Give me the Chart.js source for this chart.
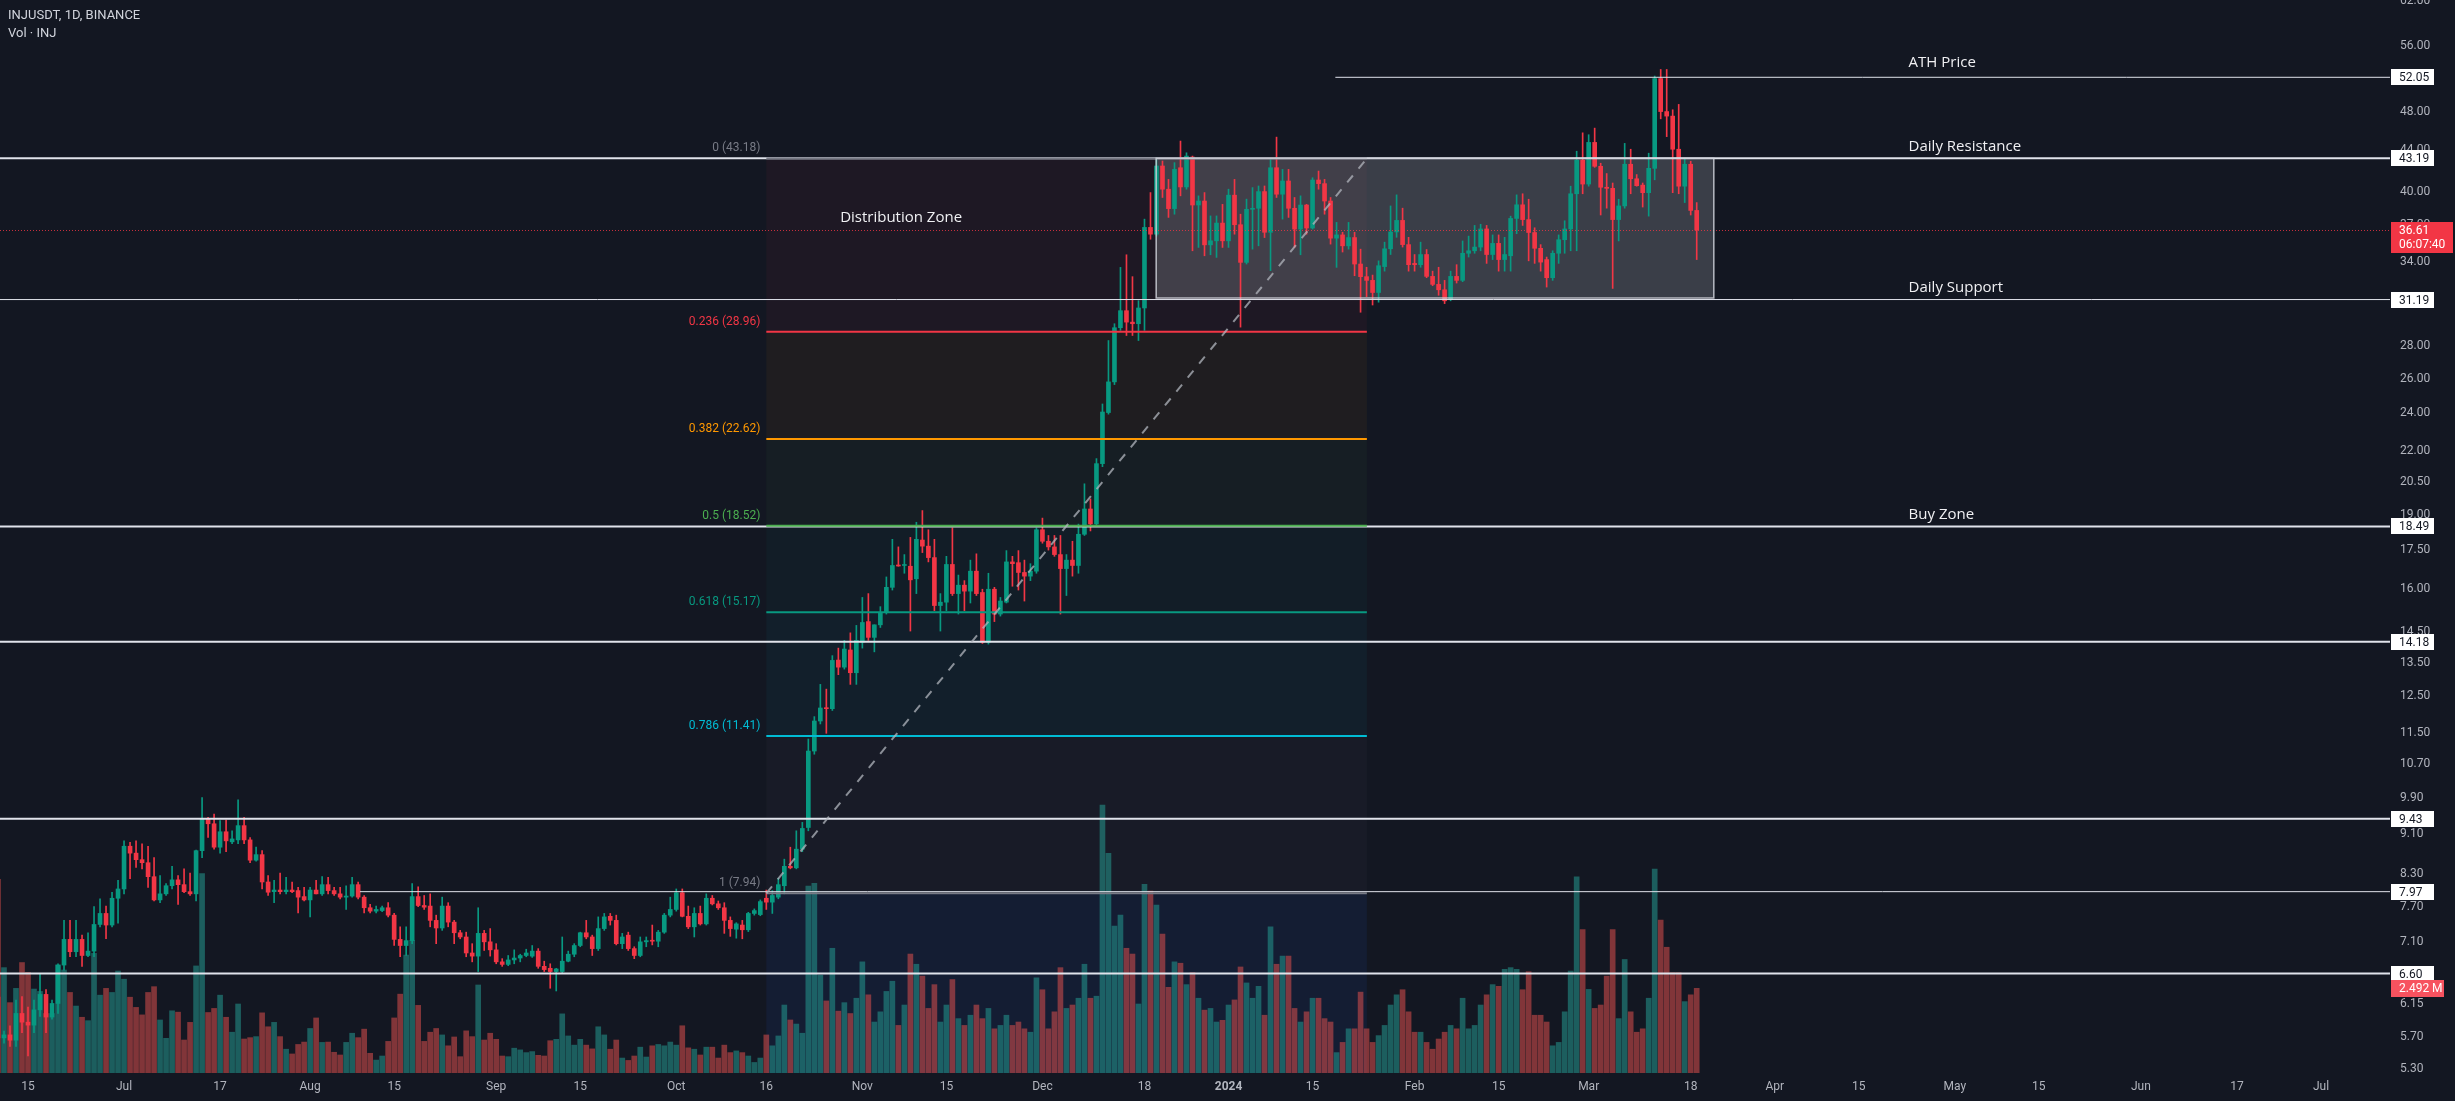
<!DOCTYPE html>
<html>
<head>
<meta charset="utf-8">
<title>INJUSDT 1D</title>
<script src="https://cdn.jsdelivr.net/npm/chart.js@4.4.1/dist/chart.umd.min.js"></script>
<style>
  html, body { margin: 0; padding: 0; background: #131722; }
  #wrap { width: 2455px; height: 1101px; position: relative; }
</style>
</head>
<body>
<div id="wrap"><canvas id="injChart"></canvas></div>
<script>
// INJUSDT daily candles, first candle = 2023-06-10
var firstDate = '2023-06-10';

var open = [
  6.25, 5.69, 5.73, 5.66, 6.02, 5.90, 5.86, 6.07, 6.29, 5.97,
  6.16, 6.73, 7.14, 6.94, 7.14, 6.88, 6.95, 7.39, 7.58, 7.38,
  7.85, 8.02, 8.85, 8.71, 8.58, 8.52, 8.25, 7.82, 7.93, 8.08,
  8.19, 8.10, 7.97, 7.93, 8.76, 9.42, 9.32, 8.83, 9.15, 8.94,
  8.98, 9.28, 8.98, 8.57, 8.68, 8.15, 7.97, 8.00, 7.97, 8.00,
  7.99, 7.88, 7.82, 8.00, 7.93, 8.10, 7.99, 7.93, 7.87, 7.89,
  8.10, 7.87, 7.68, 7.62, 7.63, 7.68, 7.55, 7.14, 7.04, 7.12,
  7.88, 7.72, 7.71, 7.46, 7.33, 7.71, 7.43, 7.25, 7.18, 6.92,
  6.87, 7.24, 7.10, 6.97, 6.78, 6.74, 6.81, 6.84, 6.88, 6.87,
  6.95, 6.71, 6.68, 6.63, 6.63, 6.79, 6.90, 7.04, 7.25, 7.18,
  6.99, 7.32, 7.53, 7.46, 7.07, 7.21, 6.99, 6.88, 7.10, 7.12,
  7.11, 7.26, 7.55, 7.65, 7.95, 7.53, 7.35, 7.58, 7.40, 7.85,
  7.75, 7.68, 7.46, 7.31, 7.38, 7.30, 7.58, 7.56, 7.85, 7.78,
  7.87, 8.08, 8.45, 8.42, 8.79, 9.24, 11.02, 11.81, 12.17, 12.15,
  13.59, 13.37, 13.91, 13.20, 14.16, 14.85, 14.32, 14.74, 15.17, 16.07,
  16.90, 16.90, 16.87, 16.39, 17.92, 17.67, 17.21, 15.41, 15.53, 16.94,
  15.84, 16.15, 15.93, 16.68, 15.88, 14.16, 16.00, 15.11, 15.53, 17.04,
  17.01, 16.63, 16.49, 16.68, 18.35, 17.87, 17.64, 17.33, 16.78, 17.11,
  16.90, 18.16, 19.25, 18.60, 21.37, 24.04, 25.80, 29.23, 30.40, 29.61,
  29.50, 30.59, 36.83, 36.26, 42.43, 40.22, 38.46, 42.26, 40.43, 43.31,
  38.78, 39.14, 35.38, 35.71, 37.20, 35.71, 39.67, 37.06, 33.98, 38.40,
  38.49, 40.00, 36.42, 42.26, 39.76, 40.99, 38.49, 36.69, 38.78, 36.78,
  41.08, 40.74, 39.14, 35.93, 36.20, 35.30, 35.98, 33.85, 32.88, 32.60,
  31.70, 33.65, 35.06, 36.45, 37.43, 35.40, 33.90, 33.80, 34.60, 32.90,
  32.30, 31.90, 31.20, 32.90, 32.60, 34.70, 34.90, 35.20, 36.70, 34.60,
  35.50, 34.20, 34.50, 37.60, 38.80, 37.50, 36.40, 35.10, 34.20, 32.80,
  34.70, 35.80, 36.70, 39.80, 43.00, 40.70, 44.80, 42.40, 40.40, 40.30,
  37.50, 38.70, 42.60, 41.20, 40.60, 39.90, 42.20, 51.90, 48.10, 47.60,
  44.10, 40.50, 42.60, 38.30
];

var high = [
  6.40, 5.78, 5.85, 6.21, 6.26, 6.11, 6.21, 6.60, 6.36, 6.21,
  6.75, 7.46, 7.46, 7.46, 7.21, 7.25, 7.70, 7.84, 7.71, 7.96,
  8.18, 8.96, 8.93, 8.96, 8.90, 8.85, 8.62, 8.27, 8.12, 8.45,
  8.27, 8.40, 8.32, 8.77, 9.90, 9.46, 9.53, 9.39, 9.40, 9.17,
  9.85, 9.46, 9.03, 8.83, 8.76, 8.27, 8.18, 8.32, 8.24, 8.15,
  8.05, 8.05, 8.05, 8.18, 8.25, 8.24, 8.05, 8.05, 8.08, 8.24,
  8.15, 7.90, 7.74, 7.71, 7.71, 7.77, 7.58, 7.35, 7.35, 8.12,
  8.06, 7.90, 7.93, 7.55, 7.87, 7.77, 7.46, 7.29, 7.26, 7.07,
  7.68, 7.29, 7.32, 7.07, 6.83, 6.88, 6.97, 6.90, 6.98, 7.04,
  6.99, 6.79, 6.75, 6.68, 7.18, 6.95, 7.07, 7.26, 7.46, 7.21,
  7.52, 7.58, 7.58, 7.55, 7.24, 7.26, 7.02, 7.18, 7.18, 7.38,
  7.29, 7.58, 7.87, 8.02, 8.02, 7.71, 7.68, 7.71, 7.93, 7.90,
  7.80, 7.77, 7.52, 7.42, 7.46, 7.60, 7.66, 7.82, 8.00, 7.99,
  8.22, 8.59, 8.83, 9.17, 9.35, 11.33, 11.93, 12.85, 12.71, 13.73,
  13.97, 14.22, 14.47, 14.72, 15.70, 15.84, 14.74, 15.37, 16.46, 17.95,
  17.64, 17.33, 18.03, 18.67, 19.18, 18.35, 17.95, 15.84, 17.26, 18.43,
  16.53, 16.32, 17.11, 17.36, 16.00, 16.60, 16.07, 15.70, 17.49, 17.26,
  17.49, 17.11, 16.97, 18.43, 18.85, 18.11, 18.11, 18.11, 17.33, 17.87,
  18.59, 20.40, 19.70, 21.62, 24.52, 28.38, 29.50, 33.59, 34.58, 32.88,
  31.11, 37.54, 39.91, 43.25, 42.92, 41.14, 42.76, 44.94, 43.74, 43.41,
  39.61, 39.91, 37.82, 37.82, 38.84, 40.22, 41.14, 37.97, 39.31, 40.37,
  40.52, 40.52, 43.08, 45.35, 42.10, 42.10, 39.46, 39.61, 38.84, 41.30,
  41.94, 41.14, 39.46, 37.26, 36.42, 37.26, 36.42, 35.03, 33.60, 33.00,
  34.10, 35.60, 38.70, 39.70, 38.50, 36.00, 34.60, 35.60, 35.00, 33.30,
  33.60, 32.60, 33.30, 33.80, 35.70, 36.10, 37.00, 37.10, 37.00, 36.20,
  36.20, 36.00, 37.80, 39.70, 39.80, 39.30, 36.80, 35.40, 34.40, 34.90,
  36.20, 37.40, 40.50, 43.90, 45.80, 45.60, 46.30, 42.70, 41.70, 40.80,
  39.30, 44.70, 44.10, 41.60, 40.80, 43.70, 52.20, 53.00, 53.00, 48.30,
  48.90, 43.20, 42.90, 39.00
];

var low = [
  5.60, 5.62, 5.58, 5.58, 5.76, 5.46, 5.76, 5.98, 5.76, 5.94,
  6.02, 6.65, 6.86, 6.86, 6.71, 6.86, 6.86, 7.35, 7.15, 7.35,
  7.41, 7.93, 8.21, 8.43, 8.40, 8.05, 7.80, 7.77, 7.90, 8.02,
  7.74, 7.95, 7.90, 7.80, 8.62, 9.03, 8.79, 8.71, 8.74, 8.90,
  8.90, 8.90, 8.52, 8.55, 8.02, 7.90, 7.77, 7.93, 7.93, 7.95,
  7.59, 7.80, 7.52, 7.93, 7.90, 7.93, 7.90, 7.84, 7.65, 7.87,
  7.84, 7.59, 7.59, 7.59, 7.61, 7.52, 7.04, 6.86, 6.88, 7.07,
  7.70, 7.65, 7.35, 7.07, 7.29, 7.35, 7.07, 7.15, 6.86, 6.78,
  6.63, 6.96, 6.87, 6.75, 6.71, 6.72, 6.75, 6.78, 6.86, 6.85,
  6.68, 6.63, 6.38, 6.34, 6.60, 6.78, 6.86, 7.02, 7.15, 6.88,
  6.96, 7.29, 7.38, 7.05, 6.99, 6.96, 6.83, 6.86, 7.02, 7.05,
  7.02, 7.24, 7.52, 7.62, 7.52, 7.32, 7.18, 7.38, 7.38, 7.73,
  7.65, 7.24, 7.19, 7.16, 7.15, 7.27, 7.55, 7.54, 7.65, 7.58,
  7.84, 7.93, 8.40, 8.40, 8.74, 9.17, 10.94, 11.73, 11.48, 12.10,
  13.14, 13.31, 12.85, 12.85, 13.97, 14.22, 13.85, 14.65, 15.11, 15.97,
  16.87, 16.60, 14.53, 15.84, 17.41, 17.04, 15.23, 14.53, 15.23, 15.77,
  15.11, 15.23, 15.50, 15.77, 14.12, 14.10, 14.85, 15.04, 15.50, 16.11,
  15.97, 15.57, 16.32, 16.60, 17.79, 17.51, 17.26, 15.11, 15.77, 16.49,
  16.60, 18.11, 18.30, 18.53, 21.22, 23.95, 25.64, 29.05, 28.71, 28.71,
  28.38, 29.05, 35.84, 36.10, 39.46, 37.69, 37.97, 39.61, 40.22, 34.90,
  35.17, 34.50, 34.58, 34.37, 35.17, 35.17, 36.26, 29.27, 33.85, 35.03,
  35.30, 35.98, 33.34, 39.46, 37.54, 37.69, 35.17, 34.58, 36.26, 36.69,
  40.22, 37.97, 35.44, 33.59, 34.80, 35.03, 32.95, 30.29, 31.40, 30.80,
  31.00, 33.30, 34.60, 36.00, 35.20, 33.30, 33.30, 33.60, 32.80, 32.20,
  31.50, 30.90, 31.10, 32.40, 32.50, 34.40, 34.70, 34.90, 33.90, 34.20,
  33.30, 33.30, 33.30, 36.30, 37.00, 34.10, 33.90, 33.30, 32.10, 32.60,
  33.90, 34.70, 34.90, 34.90, 39.80, 40.50, 42.30, 37.90, 38.50, 32.00,
  35.70, 38.50, 39.80, 40.50, 38.60, 37.80, 41.10, 47.30, 45.40, 39.90,
  39.80, 39.00, 37.90, 34.20
];

var close = [
  5.69, 5.73, 5.66, 6.02, 5.90, 5.86, 6.07, 6.29, 5.97, 6.16,
  6.73, 7.14, 6.94, 7.14, 6.88, 6.95, 7.39, 7.58, 7.38, 7.85,
  8.02, 8.85, 8.71, 8.58, 8.52, 8.25, 7.82, 7.93, 8.08, 8.19,
  8.10, 7.97, 7.93, 8.76, 9.42, 9.32, 8.83, 9.15, 8.96, 9.00,
  9.28, 8.98, 8.57, 8.68, 8.15, 7.96, 8.00, 7.97, 8.00, 7.97,
  7.87, 7.82, 8.00, 7.93, 8.10, 7.99, 7.93, 7.87, 7.89, 8.10,
  7.87, 7.68, 7.62, 7.65, 7.68, 7.55, 7.14, 7.04, 7.12, 7.88,
  7.72, 7.69, 7.46, 7.33, 7.71, 7.43, 7.25, 7.18, 6.92, 6.87,
  7.24, 7.10, 6.97, 6.78, 6.74, 6.81, 6.84, 6.88, 6.92, 6.95,
  6.71, 6.66, 6.63, 6.67, 6.79, 6.90, 7.04, 7.25, 7.18, 6.99,
  7.32, 7.52, 7.46, 7.07, 7.18, 6.99, 6.88, 7.10, 7.12, 7.11,
  7.26, 7.55, 7.65, 7.95, 7.53, 7.35, 7.58, 7.40, 7.85, 7.75,
  7.68, 7.46, 7.32, 7.40, 7.30, 7.58, 7.63, 7.79, 7.78, 7.90,
  8.10, 8.45, 8.42, 8.79, 9.22, 11.02, 11.81, 12.17, 12.15, 13.58,
  13.37, 13.94, 13.20, 14.22, 14.82, 14.32, 14.74, 15.17, 16.07, 16.90,
  16.88, 16.92, 16.35, 17.95, 17.67, 17.21, 15.41, 15.53, 16.94, 15.84,
  16.15, 15.93, 16.68, 15.84, 14.16, 16.00, 15.11, 15.57, 17.04, 16.97,
  16.63, 16.49, 16.68, 18.35, 17.87, 17.64, 17.33, 16.78, 17.11, 16.90,
  18.16, 19.25, 18.60, 21.37, 24.07, 25.80, 29.23, 30.40, 29.61, 29.50,
  30.59, 36.83, 36.26, 42.43, 40.22, 38.46, 42.10, 40.43, 43.41, 38.78,
  39.14, 35.38, 35.71, 37.20, 35.71, 39.67, 37.06, 33.98, 38.40, 38.49,
  40.00, 36.42, 42.26, 39.76, 40.99, 38.49, 36.69, 38.78, 36.78, 41.08,
  40.74, 39.14, 35.93, 36.20, 35.30, 35.98, 33.85, 32.88, 32.60, 31.70,
  33.72, 35.06, 36.45, 37.43, 35.40, 33.80, 33.80, 34.60, 32.90, 32.30,
  31.90, 31.10, 32.90, 32.60, 34.70, 34.90, 35.20, 36.70, 34.60, 35.50,
  34.20, 34.60, 37.60, 38.80, 37.50, 36.40, 35.10, 34.00, 32.80, 34.70,
  35.80, 36.70, 39.80, 43.00, 40.70, 44.80, 42.40, 40.40, 40.30, 37.50,
  38.70, 42.60, 41.20, 40.55, 39.90, 42.20, 51.90, 48.10, 47.60, 44.10,
  40.50, 42.60, 38.30, 36.61
];

// volume in millions of INJ
var volume = [
  5.7, 3.1, 2.07, 2.49, 3.25, 2.96, 2.47, 2.4, 1.75, 1.75,
  3.18, 3.03, 2.37, 1.97, 1.64, 1.54, 3.52, 2.29, 2.49, 2.37,
  3.0, 2.76, 2.23, 1.93, 1.71, 2.37, 2.54, 1.56, 1.02, 1.83,
  1.79, 0.97, 1.49, 3.15, 5.87, 1.78, 1.90, 2.29, 1.64, 1.2,
  2.03, 1.0, 1.04, 1.07, 1.77, 1.36, 1.49, 1.07, 0.70, 0.56,
  0.84, 0.91, 1.31, 1.62, 0.9, 0.91, 0.61, 0.53, 0.9, 1.17,
  1.04, 1.29, 0.58, 0.38, 0.5, 0.93, 1.62, 2.32, 3.47, 3.9,
  1.99, 0.93, 1.2, 1.31, 1.12, 0.8, 1.06, 0.48, 1.24, 1.07,
  2.59, 0.97, 1.17, 0.99, 0.5, 0.48, 0.73, 0.68, 0.6, 0.63,
  0.52, 0.5, 0.95, 0.99, 1.74, 1.09, 0.82, 0.99, 0.82, 0.71,
  1.36, 1.12, 0.7, 0.97, 0.44, 0.37, 0.5, 0.76, 0.47, 0.8,
  0.84, 0.8, 0.91, 0.82, 1.39, 0.74, 0.7, 0.53, 0.76, 0.76,
  0.44, 0.82, 0.6, 0.65, 0.6, 0.5, 0.31, 0.44, 1.12, 0.8,
  1.09, 2.0, 1.56, 1.44, 1.17, 5.5, 5.58, 2.88, 2.12, 3.67,
  1.82, 2.07, 1.75, 2.2, 3.27, 2.3, 1.5, 1.8, 2.4, 2.7,
  1.4, 2.0, 3.5, 3.2, 2.85, 1.9, 2.6, 1.5, 2.0, 2.75,
  1.6, 1.4, 1.7, 2.0, 1.6, 1.9, 1.3, 1.4, 1.7, 1.4,
  1.5, 1.3, 1.2, 2.8, 2.45, 1.3, 1.8, 3.1, 1.9, 2.0,
  2.2, 3.2, 2.2, 2.26, 7.88, 6.46, 4.32, 4.65, 3.67, 3.5,
  2.03, 5.55, 5.35, 4.94, 4.09, 2.52, 3.27, 3.23, 2.6, 2.95,
  2.2, 1.85, 1.9, 1.5, 1.55, 2.0, 2.15, 3.12, 2.65, 2.2,
  2.55, 1.7, 4.3, 3.2, 3.44, 3.44, 1.9, 1.5, 1.8, 2.2,
  2.2, 1.6, 1.5, 0.6, 0.9, 1.3, 1.3, 2.38, 1.3, 0.9,
  1.1, 1.4, 2.0, 2.3, 2.45, 1.8, 1.2, 1.2, 0.9, 0.7,
  1.0, 1.2, 1.4, 1.3, 2.2, 1.3, 1.4, 2.0, 2.3, 2.6,
  2.55, 3.05, 3.1, 3.05, 2.45, 2.98, 1.7, 1.7, 1.5, 0.8,
  0.9, 1.8, 3.0, 5.77, 4.22, 2.46, 1.9, 2.0, 2.85, 4.22,
  1.6, 3.34, 1.8, 1.2, 1.3, 2.2, 6.0, 4.5, 3.7, 2.95,
  2.95, 2.1, 2.3, 2.492
];

// time axis labels
var tickDates = ['2023-06-15', '2023-07-01', '2023-07-17', '2023-08-01', '2023-08-15', '2023-09-01',
  '2023-09-15', '2023-10-01', '2023-10-16', '2023-11-01', '2023-11-15', '2023-12-01', '2023-12-18',
  '2024-01-01', '2024-01-15', '2024-02-01', '2024-02-15', '2024-03-01', '2024-03-18', '2024-04-01',
  '2024-04-15', '2024-05-01', '2024-05-15', '2024-06-01', '2024-06-17', '2024-07-01'];
var tickLabels = ['15', 'Jul', '17', 'Aug', '15', 'Sep', '15', 'Oct', '16', 'Nov', '15', 'Dec', '18',
  '2024', '15', 'Feb', '15', 'Mar', '18', 'Apr', '15', 'May', '15', 'Jun', '17', 'Jul'];

// price axis labels
var priceTicks = [62, 56, 52, 48, 44, 40, 37, 34, 31, 28, 26, 24, 22, 20.5, 19, 17.5, 16, 14.5,
  13.5, 12.5, 11.5, 10.7, 9.9, 9.1, 8.3, 7.7, 7.1, 6.6, 6.15, 5.7, 5.3];

// horizontal levels drawn on the chart
var levels = [52.05, 43.19, 31.19, 18.49, 14.18, 9.43, 7.97, 6.60];

// fib retracement
var fibRatios = ['0', '0.236', '0.382', '0.5', '0.618', '0.786', '1'];
var fibPrices = [43.18, 28.96, 22.62, 18.52, 15.17, 11.41, 7.94];

// text notes and their levels
var noteTexts = ['ATH Price', 'Daily Resistance', 'Daily Support', 'Buy Zone'];
var notePrices = [52.05, 43.19, 31.19, 18.49];

var lastPrice = 36.61;
var lastVolume = 2.492;
var countdown = '06:07:40';

// ---------------------------------------------------------------

var START = Date.UTC(2023, 5, 11);
function dayOf(s) {
  var p = s.split('-');
  return (Date.UTC(+p[0], +p[1] - 1, +p[2]) - START) / 864e5;
}

var UP = '#089981', DOWN = '#f23645';
var VUP = 'rgba(38,166,154,0.5)', VDOWN = 'rgba(239,83,80,0.5)';
var LINE = '#e0e3eb';
var fibColors = ['#787b86', '#f23645', '#ff9800', '#4caf50', '#089981', '#00bcd4', '#787b86'];

var d0 = dayOf(firstDate);
var xs = open.map(function (o, i) { return d0 + i; });
var isUp = open.map(function (o, i) { return close[i] >= o; });
var candleColors = isUp.map(function (u) { return u ? UP : DOWN; });
var tickDays = tickDates.map(dayOf);

// drawing positions (in days since 2023-06-11)
var levelFrom = [221.8, null, null, null, null, null, 59.3, null];
var levelWidth = [1, 2, 1, 2, 2, 2, 1, 2];
var fibFrom = dayOf('2023-10-16'), fibTo = 227.05;
var boxFrom = 191.95, boxTo = 284.85, boxTop = 43.19, boxBottom = 31.3;
var noteDay = 317.3;

function rgba(hex, a) {
  var n = parseInt(hex.slice(1), 16);
  return 'rgba(' + (n >> 16) + ',' + ((n >> 8) & 255) + ',' + (n & 255) + ',' + a + ')';
}

var drawings = {
  id: 'drawings',
  beforeDatasetsDraw: function (chart) {
    var ctx = chart.ctx, x = chart.scales.x, y = chart.scales.y, a = chart.chartArea;
    ctx.save();
    ctx.beginPath();
    ctx.rect(a.left, a.top, a.right - a.left, a.bottom - a.top);
    ctx.clip();
    var x1 = x.getPixelForValue(fibFrom), x2 = x.getPixelForValue(fibTo);
    for (var i = 1; i < fibPrices.length; i++) {
      var ya = y.getPixelForValue(fibPrices[i - 1]), yb = y.getPixelForValue(fibPrices[i]);
      ctx.fillStyle = rgba(fibColors[i], 0.05);
      ctx.fillRect(x1, ya, x2 - x1, yb - ya);
    }
    // band under level 1 (1.618 is far below the chart)
    var y1 = y.getPixelForValue(fibPrices[fibPrices.length - 1]);
    ctx.fillStyle = rgba('#2962ff', 0.08);
    ctx.fillRect(x1, y1, x2 - x1, a.bottom - y1);

    // range box
    var bx1 = x.getPixelForValue(boxFrom), bx2 = x.getPixelForValue(boxTo);
    var by1 = y.getPixelForValue(boxTop), by2 = y.getPixelForValue(boxBottom);
    ctx.fillStyle = 'rgba(149,152,161,0.3)';
    ctx.fillRect(bx1, by1, bx2 - bx1, by2 - by1);
    ctx.restore();
  },
  afterDatasetsDraw: function (chart) {
    var ctx = chart.ctx, x = chart.scales.x, y = chart.scales.y, a = chart.chartArea;
    ctx.save();
    ctx.beginPath();
    ctx.rect(a.left, a.top, a.right - a.left, a.bottom - a.top);
    ctx.clip();

    // last price dotted line
    var py = Math.round(y.getPixelForValue(lastPrice)) + 0.5;
    ctx.strokeStyle = 'rgba(242,54,69,0.8)';
    ctx.lineWidth = 1;
    ctx.setLineDash([1, 2]);
    ctx.beginPath(); ctx.moveTo(a.left, py); ctx.lineTo(a.right, py); ctx.stroke();
    ctx.setLineDash([]);

    // horizontal levels
    levels.forEach(function (v, i) {
      var ly = y.getPixelForValue(v);
      var lx = levelFrom[i] == null ? a.left : x.getPixelForValue(levelFrom[i]);
      ctx.strokeStyle = LINE;
      ctx.lineWidth = levelWidth[i];
      ctx.beginPath(); ctx.moveTo(lx, ly); ctx.lineTo(a.right, ly); ctx.stroke();
    });

    // fib levels and labels
    var x1 = x.getPixelForValue(fibFrom), x2 = x.getPixelForValue(fibTo);
    ctx.font = '12px Roboto';
    ctx.textAlign = 'right';
    ctx.textBaseline = 'middle';
    fibPrices.forEach(function (v, i) {
      var fy = y.getPixelForValue(v);
      ctx.strokeStyle = fibColors[i];
      ctx.lineWidth = 2;
      ctx.beginPath(); ctx.moveTo(x1, fy); ctx.lineTo(x2, fy); ctx.stroke();
      ctx.fillStyle = fibColors[i];
      ctx.fillText(fibRatios[i] + ' (' + v.toFixed(2) + ')', x1 - 6, fy - 10);
    });

    // range box border
    var bx1 = x.getPixelForValue(boxFrom), bx2 = x.getPixelForValue(boxTo);
    var by1 = y.getPixelForValue(boxTop), by2 = y.getPixelForValue(boxBottom);
    ctx.strokeStyle = 'rgba(209,212,220,0.85)';
    ctx.lineWidth = 1.5;
    ctx.strokeRect(bx1, by1, bx2 - bx1, by2 - by1);

    // trend line of the fib
    ctx.strokeStyle = 'rgba(178,181,190,0.75)';
    ctx.lineWidth = 2;
    ctx.setLineDash([9, 9]);
    ctx.beginPath();
    ctx.moveTo(x1, y.getPixelForValue(fibPrices[fibPrices.length - 1]));
    ctx.lineTo(x2, y.getPixelForValue(fibPrices[0]));
    ctx.stroke();
    ctx.setLineDash([]);

    // notes
    ctx.font = '15px "Open Sans"';
    ctx.fillStyle = '#f0f0f3';
    ctx.textAlign = 'left';
    var nx = x.getPixelForValue(noteDay);
    noteTexts.forEach(function (t, i) {
      var off = i === 0 ? 15 : 12;
      ctx.fillText(t, nx, y.getPixelForValue(notePrices[i]) - off);
    });
    ctx.fillText('Distribution Zone', x.getPixelForValue(139.3), y.getPixelForValue(37.7));
    ctx.restore();
  },
  afterDraw: function (chart) {
    var ctx = chart.ctx, y = chart.scales.y, v = chart.scales.v, a = chart.chartArea;
    var bx = a.right + 1;
    ctx.save();
    ctx.textBaseline = 'middle';
    ctx.textAlign = 'left';

    // header
    ctx.fillStyle = '#d1d4dc';
    ctx.font = '13px Roboto';
    ctx.fillText('INJUSDT, 1D, BINANCE', 8, 16);
    ctx.fillText('Vol \u00b7 INJ', 8, 34);

    // level tags
    ctx.font = '12px Roboto';
    levels.forEach(function (p) {
      var ty = y.getPixelForValue(p);
      ctx.fillStyle = '#ffffff';
      ctx.fillRect(bx, Math.round(ty) - 8, 43, 16);
      ctx.fillStyle = '#131722';
      ctx.fillText(p.toFixed(2), bx + 8, Math.round(ty) + 0.5);
    });

    // volume tag
    var vy = v.getPixelForValue(lastVolume);
    ctx.fillStyle = '#f7525f';
    ctx.fillRect(bx, Math.round(vy) - 8, 53, 17);
    ctx.fillStyle = '#ffffff';
    ctx.fillText(lastVolume.toFixed(3) + ' M', bx + 8, Math.round(vy) + 0.5);

    // last price tag
    var ly = Math.round(y.getPixelForValue(lastPrice));
    ctx.fillStyle = '#f23645';
    ctx.fillRect(bx, ly - 8, 62, 31);
    ctx.fillStyle = '#ffffff';
    ctx.fillText(lastPrice.toFixed(2), bx + 8, ly + 0.5);
    ctx.fillText(countdown, bx + 8, ly + 15);
    ctx.restore();
  }
};

Chart.defaults.font.family = 'Roboto';
Chart.defaults.color = '#b2b5be';

var ctx = document.getElementById('injChart').getContext('2d');
var injChart = new Chart(ctx, {
  type: 'bar',
  data: {
    datasets: [
      {
        label: 'Volume',
        yAxisID: 'v',
        data: xs.map(function (d, i) { return { x: d, y: volume[i] }; }),
        backgroundColor: isUp.map(function (u) { return u ? VUP : VDOWN; }),
        barThickness: 5,
        grouped: false,
        order: 3
      },
      {
        label: 'Wick',
        yAxisID: 'y',
        data: xs.map(function (d, i) { return { x: d, y: [low[i], high[i]] }; }),
        backgroundColor: candleColors,
        barThickness: 1,
        grouped: false,
        order: 2
      },
      {
        label: 'Body',
        yAxisID: 'y',
        data: xs.map(function (d, i) { return { x: d, y: [Math.min(open[i], close[i]), Math.max(open[i], close[i])] }; }),
        backgroundColor: candleColors,
        barThickness: 4,
        minBarLength: 1,
        grouped: false,
        order: 1
      }
    ]
  },
  options: {
    responsive: true,
    maintainAspectRatio: false,
    animation: false,
    layout: { padding: 0 },
    scales: {
      x: {
        type: 'linear',
        bounds: 'data',
        offset: false,
        min: -0.666,
        max: 397.5,
        grid: { display: false, drawTicks: false },
        border: { display: false },
        afterBuildTicks: function (s) { s.ticks = tickDays.map(function (d) { return { value: d }; }); },
        afterFit: function (s) { s.height = 28; s.paddingLeft = 0; s.paddingRight = 0; },
        ticks: {
          autoSkip: false,
          maxRotation: 0,
          padding: 7,
          color: '#b2b5be',
          font: function (c) {
            return { family: 'Roboto', size: 12, weight: tickLabels[c.index] === '2024' ? 'bold' : 'normal' };
          },
          callback: function (val, i) { return tickLabels[i]; }
        }
      },
      y: {
        type: 'logarithmic',
        position: 'right',
        bounds: 'data',
        min: 5.248,
        max: 62.2,
        grid: { display: false, drawTicks: false },
        border: { display: false },
        afterBuildTicks: function (s) { s.ticks = priceTicks.map(function (p) { return { value: p }; }); },
        afterFit: function (s) { s.width = 65; s.paddingTop = 0; s.paddingBottom = 0; },
        ticks: {
          autoSkip: false,
          padding: 10,
          color: '#b2b5be',
          font: { size: 12 },
          callback: function (val) { return Number(val).toFixed(2); }
        }
      },
      v: {
        type: 'linear',
        display: false,
        min: 0,
        max: 31.57
      }
    },
    plugins: {
      legend: { display: false },
      tooltip: { enabled: false }
    }
  },
  plugins: [drawings]
});
</script>
</body>
</html>
